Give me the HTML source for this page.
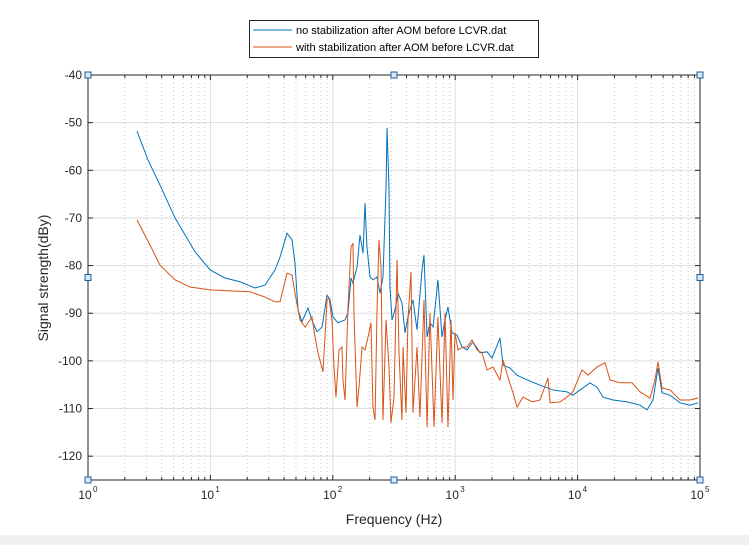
<!DOCTYPE html>
<html><head><meta charset="utf-8"><style>
body{margin:0;background:#fff;width:749px;height:545px;overflow:hidden;font-family:"Liberation Sans",sans-serif}
</style></head><body>
<svg id="c" width="749" height="545" style="position:absolute;left:0;top:0"></svg>
<script>
const xTickExps=[0,1,2,3,4,5];
const yTicks=[-40,-50,-60,-70,-80,-90,-100,-110,-120];
const seriesNames=["no stabilization after AOM before LCVR.dat","with stabilization after AOM before LCVR.dat"];
// frequency as log10(Hz)
const blueLogF=[.400,.490,.588,.711,.874,.997,1.119,1.242,1.364,1.446,1.528,1.569,1.626,1.667,1.691,1.716,1.748,1.797,1.838,1.871,1.912,1.953,1.977,2.002,2.042,2.100,2.124,2.149,2.165,2.198,2.222,2.247,2.263,2.279,2.304,2.328,2.361,2.386,2.410,2.435,2.443,2.459,2.467,2.484,2.508,2.533,2.565,2.590,2.614,2.655,2.688,2.729,2.745,2.770,2.794,2.819,2.859,2.892,2.917,2.941,2.974,3.015,3.056,3.096,3.145,3.203,3.260,3.301,3.366,3.391,3.448,3.505,3.587,3.693,3.799,3.913,3.962,4.020,4.101,4.158,4.208,4.289,4.404,4.510,4.567,4.616,4.657,4.690,4.755,4.837,4.918,4.984];
const blueDb=[-51.8,-57.8,-63.1,-70.0,-77.1,-80.9,-82.6,-83.4,-84.7,-84.1,-80.9,-78.2,-73.2,-74.6,-79.5,-89.3,-91.8,-88.9,-92.0,-93.9,-92.9,-86.2,-87.2,-90.8,-92.0,-91.4,-89.9,-82.6,-83.7,-80.3,-73.6,-77.4,-66.9,-76.1,-82.4,-83.0,-82.4,-85.8,-82.4,-63.5,-51.1,-63.5,-84.5,-91.4,-89.3,-85.8,-87.8,-94.1,-90.8,-87.2,-93.5,-80.9,-77.8,-95.0,-92.0,-92.9,-83.0,-95.0,-91.4,-88.7,-94.1,-94.6,-97.1,-97.7,-96.0,-98.3,-98.1,-99.4,-95.2,-100.9,-101.5,-103.0,-104.0,-105.1,-106.1,-106.5,-107.2,-106.1,-104.6,-105.5,-107.6,-108.2,-108.6,-109.3,-110.3,-108.2,-101.5,-106.7,-107.2,-108.8,-109.3,-108.8];
const orangeLogF=[.400,.507,.588,.711,.833,.997,1.160,1.324,1.446,1.528,1.569,1.626,1.667,1.691,1.732,1.773,1.830,1.855,1.879,1.920,1.953,1.969,1.993,2.010,2.026,2.051,2.075,2.083,2.100,2.124,2.149,2.165,2.173,2.198,2.214,2.239,2.263,2.288,2.312,2.328,2.345,2.361,2.377,2.394,2.410,2.435,2.459,2.475,2.500,2.525,2.541,2.565,2.574,2.598,2.614,2.639,2.655,2.688,2.712,2.745,2.770,2.794,2.827,2.859,2.892,2.917,2.941,2.966,2.982,2.998,3.023,3.064,3.096,3.137,3.178,3.219,3.260,3.309,3.366,3.391,3.431,3.472,3.505,3.554,3.627,3.693,3.758,3.775,3.856,3.913,3.962,3.995,4.036,4.085,4.158,4.224,4.265,4.346,4.444,4.510,4.592,4.632,4.657,4.690,4.755,4.837,4.918,4.984];
const orangeDb=[-70.4,-75.7,-79.9,-83.0,-84.5,-85.1,-85.3,-85.5,-86.6,-87.6,-87.6,-81.6,-82.0,-85.8,-91.4,-92.9,-90.8,-95.0,-98.3,-102.3,-87.2,-86.8,-91.4,-101.3,-107.6,-97.7,-97.1,-104.0,-108.2,-88.7,-76.1,-75.3,-89.9,-109.7,-105.5,-97.1,-97.7,-95.0,-92.0,-109.7,-112.4,-89.9,-74.6,-80.3,-112.4,-91.4,-101.3,-113.0,-107.6,-78.8,-98.3,-112.4,-97.1,-110.9,-91.4,-81.3,-110.9,-97.1,-111.8,-87.2,-113.9,-89.9,-113.9,-90.8,-113.0,-89.9,-113.9,-91.4,-108.2,-94.1,-97.7,-97.1,-97.1,-95.6,-97.7,-98.3,-101.9,-101.3,-104.0,-99.8,-103.4,-106.7,-109.7,-107.6,-108.6,-108.2,-103.6,-108.8,-108.6,-107.6,-106.5,-104.4,-101.9,-103.0,-101.3,-100.4,-104.0,-104.6,-104.6,-106.5,-107.8,-104.0,-100.2,-105.7,-106.1,-108.2,-108.2,-107.8];

const svg=document.getElementById('c');const NS='http://www.w3.org/2000/svg';
const L=88,R=700,T=75,B=480,X0=0,X1=5,Y0=-125,Y1=-40;
const sx=lf=>L+(lf-X0)/(X1-X0)*(R-L);
const sy=v=>B-(v-Y0)/(Y1-Y0)*(B-T);
function mk(tag,at,parent){const e=document.createElementNS(NS,tag);for(const k in at)e.setAttribute(k,at[k]);(parent||svg).appendChild(e);return e;}
const bg=mk('rect',{x:0,y:535,width:749,height:10,fill:'#f0f0f0'});


const grid=mk('g',{});


for(let d=0;d<5;d++)for(let m=2;m<10;m++){const x=sx(d+Math.log10(m));mk('line',{x1:x,x2:x,y1:T,y2:B,stroke:'#c8c8c8','stroke-dasharray':'1,3','stroke-width':1},grid);}
xTickExps.forEach(e=>{const x=sx(e);mk('line',{x1:x,x2:x,y1:T,y2:B,stroke:'#dedede'},grid);});
yTicks.forEach(v=>{const y=sy(v);mk('line',{x1:L,x2:R,y1:y,y2:y,stroke:'#dedede'},grid);});
const ax=mk('g',{});


mk('rect',{x:L,y:T,width:R-L,height:B-T,fill:'none',stroke:'#262626','stroke-width':1},ax);
yTicks.forEach(v=>{const y=sy(v);mk('line',{x1:L,x2:L+5,y1:y,y2:y,stroke:'#262626'},ax);mk('line',{x1:R,x2:R-5,y1:y,y2:y,stroke:'#262626'},ax);
 const t=mk('text',{x:L-6,y:y+4,'text-anchor':'end','font-size':12,fill:'#262626'},ax);t.textContent=v;
 
 });
xTickExps.forEach(e=>{const x=sx(e);mk('line',{x1:x,x2:x,y1:B,y2:B-5,stroke:'#262626'},ax);mk('line',{x1:x,x2:x,y1:T,y2:T+5,stroke:'#262626'},ax);
 const t=mk('text',{x:x-3,y:B+19,'text-anchor':'middle','font-size':12,fill:'#262626'},ax);t.textContent='10';
 
 
 const s=mk('text',{x:x+5,y:B+12,'font-size':8,fill:'#262626'},ax);s.textContent=e;});
for(let d=0;d<5;d++)for(let m=2;m<10;m++){const x=sx(d+Math.log10(m));mk('line',{x1:x,x2:x,y1:B,y2:B-3,stroke:'#262626'},ax);mk('line',{x1:x,x2:x,y1:T,y2:T+3,stroke:'#262626'},ax);}
const xt=mk('text',{x:394,y:524,'text-anchor':'middle','font-size':14,fill:'#262626'});xt.textContent='Frequency (Hz)';


const yt=mk('text',{x:0,y:0,'text-anchor':'middle','font-size':14,fill:'#262626',transform:'translate(48,278) rotate(-90)'});yt.textContent='Signal strength(dBy)';


function line(lf,db,col,name){const p=mk('polyline',{points:lf.map((f,i)=>sx(f)+','+sy(db[i])).join(' '),fill:'none',stroke:col,'stroke-width':1});
 
 }
line(blueLogF,blueDb,'#0072bd','series-no-stabilization');
line(orangeLogF,orangeDb,'#d95319','series-with-stabilization');
[[L,T],[(L+R)/2,T],[R,T],[L,(T+B)/2],[R,(T+B)/2],[L,B],[(L+R)/2,B],[R,B]].forEach(([x,y])=>{const h=mk('rect',{x:x-3,y:y-3,width:6,height:6,fill:'#dbe8f5',stroke:'#1f5fa0'});
 
 });
const lg=mk('g',{});


mk('rect',{x:249.5,y:20.5,width:289,height:37,fill:'#fff',stroke:'#262626'},lg);
[['#0072bd',0],['#d95319',1]].forEach(([c,i])=>{const y=30+i*17;mk('line',{x1:253,x2:292,y1:y,y2:y,stroke:c},lg);
 const t=mk('text',{x:296,y:y+4,'font-size':11,fill:'#000'},lg);t.textContent=seriesNames[i];
 
 });
</script>
</body></html>
